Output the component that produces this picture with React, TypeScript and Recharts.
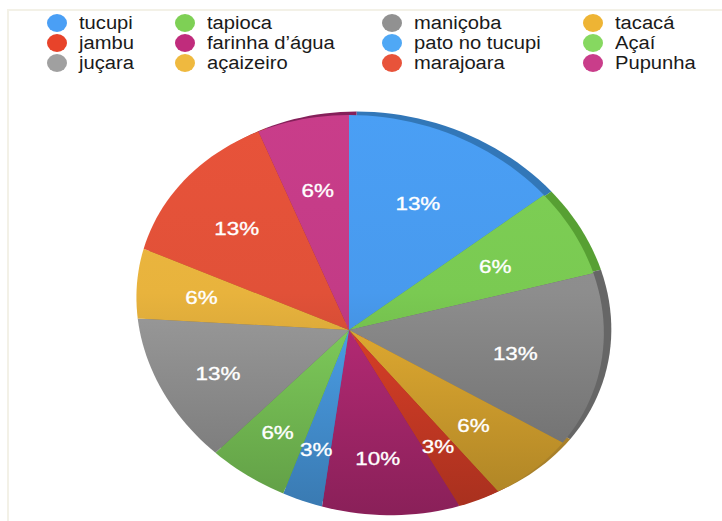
import { PieChart, Pie, Cell, Legend } from 'recharts';

const names = [
  'tucupi', 'tapioca', 'maniçoba', 'tacacá',
  'jambu', 'farinha d’água', 'pato no tucupi', 'Açaí',
  'juçara', 'açaizeiro', 'marajoara', 'Pupunha',
];
const shares = [13, 6, 13, 6, 3, 10, 3, 6, 13, 6, 13, 6];
const colors = [
  '#4a9ff5', '#7ed055', '#919191', '#eeb434',
  '#e8432a', '#c02c7c', '#4fa8f5', '#86d860',
  '#a0a0a0', '#efb93f', '#e8533a', '#c93d8a',
];
const rimColors = [
  '#3277b8', '#57a033', '#666666', '#a8802a',
  '#a03020', '#85205a', '#3277b8', '#57a033',
  '#666666', '#a8802a', '#a03020', '#85205a',
];

const rows = names.map((name, i) => ({ name, value: shares[i] }));

// tilted disc: maps the unit circle onto the page with a homography
const ORIGIN = { x: 349, y: 330 };
const TILT = { a: 231, d: 19, e: 197.1, g: -0.0901, h: 0.083 };

function project(ux: number, uy: number, dx = 0, dy = 0) {
  const w = TILT.g * ux + TILT.h * uy + 1;
  return {
    x: ORIGIN.x + dx + (TILT.a * ux) / w,
    y: ORIGIN.y + dy + (TILT.d * ux + TILT.e * uy) / w,
  };
}

function wedgePath(startAngle: number, endAngle: number, dx: number, dy: number) {
  const steps = Math.max(4, Math.ceil(Math.abs(endAngle - startAngle) / 2));
  const start = project(0, 0, dx, dy);
  let d = `M${start.x},${start.y}`;
  for (let i = 0; i <= steps; i += 1) {
    const deg = startAngle + ((endAngle - startAngle) * i) / steps;
    const rad = (deg * Math.PI) / 180;
    const p = project(Math.cos(rad), -Math.sin(rad), dx, dy);
    d += `L${p.x.toFixed(2)},${p.y.toFixed(2)}`;
  }
  return `${d}Z`;
}

function TopWedge(props: any) {
  return <path d={wedgePath(props.startAngle, props.endAngle, 0, 0)} fill={props.fill} />;
}

function RimWedge(props: any) {
  return <path d={wedgePath(props.startAngle, props.endAngle, 7.5, -3.5)} fill={props.fill} />;
}

function percentLabel(props: any) {
  const rad = (props.midAngle * Math.PI) / 180;
  const p = project(0.68 * Math.cos(rad), -0.68 * Math.sin(rad));
  return (
    <text
      transform={`translate(${p.x},${p.y}) scale(1.18,1)`}
      textAnchor="middle"
      dominantBaseline="central"
      fontFamily="'Liberation Sans', Arial, sans-serif"
      fontSize={19}
      fill="#ffffff"
      stroke="#ffffff"
      strokeWidth={0.35}
    >
      {props.value}%
    </text>
  );
}

function shade(hex: string, k: number) {
  const n = parseInt(hex.slice(1), 16);
  const c = [(n >> 16) & 255, (n >> 8) & 255, n & 255].map((v) => Math.round(v * k));
  return `rgb(${c[0]},${c[1]},${c[2]})`;
}

function KeyGrid() {
  return (
    <div
      style={{
        display: 'grid',
        gridTemplateColumns: '128px 207px 201px 110px',
        fontFamily: "'Liberation Sans', Arial, sans-serif",
        fontSize: 18,
        lineHeight: '20px',
        color: '#1a1a1a',
      }}
    >
      {names.map((name, i) => (
        <div key={name} style={{ display: 'flex', alignItems: 'center', height: 20, whiteSpace: 'nowrap' }}>
          <span style={{ width: 20, height: 18, borderRadius: '50%', background: colors[i], flex: 'none' }} />
          <span style={{ marginLeft: 12, transform: 'scaleX(1.12)', transformOrigin: 'left center' }}>{name}</span>
        </div>
      ))}
    </div>
  );
}

export default function App() {
  return (
    <div style={{ position: 'absolute', left: 0, top: 0, width: 722, height: 521, background: '#ffffff' }}>
      <div
        style={{
          position: 'absolute',
          left: 7,
          top: 9,
          right: 0,
          bottom: 0,
          borderTop: '2px solid #f3f1e7',
          borderLeft: '2px solid #f3f1e7',
        }}
      />
      <PieChart width={722} height={521} margin={{ top: 0, right: 0, bottom: 0, left: 0 }} style={{ position: 'absolute' }}>
        <defs>
          {colors.map((c, i) => (
            <linearGradient key={c + i} id={`wedge-${i}`} gradientUnits="userSpaceOnUse" x1="0" y1="113" x2="0" y2="513">
              <stop offset="0" stopColor={shade(c, 1)} />
              <stop offset="0.45" stopColor={shade(c, 0.97)} />
              <stop offset="1" stopColor={shade(c, 0.72)} />
            </linearGradient>
          ))}
        </defs>
        <Legend
          content={<KeyGrid />}
          wrapperStyle={{ position: 'absolute', left: 47, top: 13, width: 660 }}
        />
        <Pie
          data={rows}
          dataKey="value"
          nameKey="name"
          cx={349}
          cy={330}
          outerRadius={200}
          startAngle={90}
          endAngle={-270}
          stroke="none"
          legendType="none"
          shape={RimWedge}
          isAnimationActive={false}
        >
          {rows.map((r, i) => (
            <Cell key={r.name} fill={rimColors[i]} />
          ))}
        </Pie>
        <Pie
          data={rows}
          dataKey="value"
          nameKey="name"
          cx={349}
          cy={330}
          outerRadius={200}
          startAngle={90}
          endAngle={-270}
          stroke="none"
          shape={TopWedge}
          label={percentLabel}
          labelLine={false}
          isAnimationActive={false}
        >
          {rows.map((r, i) => (
            <Cell key={r.name} fill={`url(#wedge-${i})`} />
          ))}
        </Pie>
      </PieChart>
    </div>
  );
}
